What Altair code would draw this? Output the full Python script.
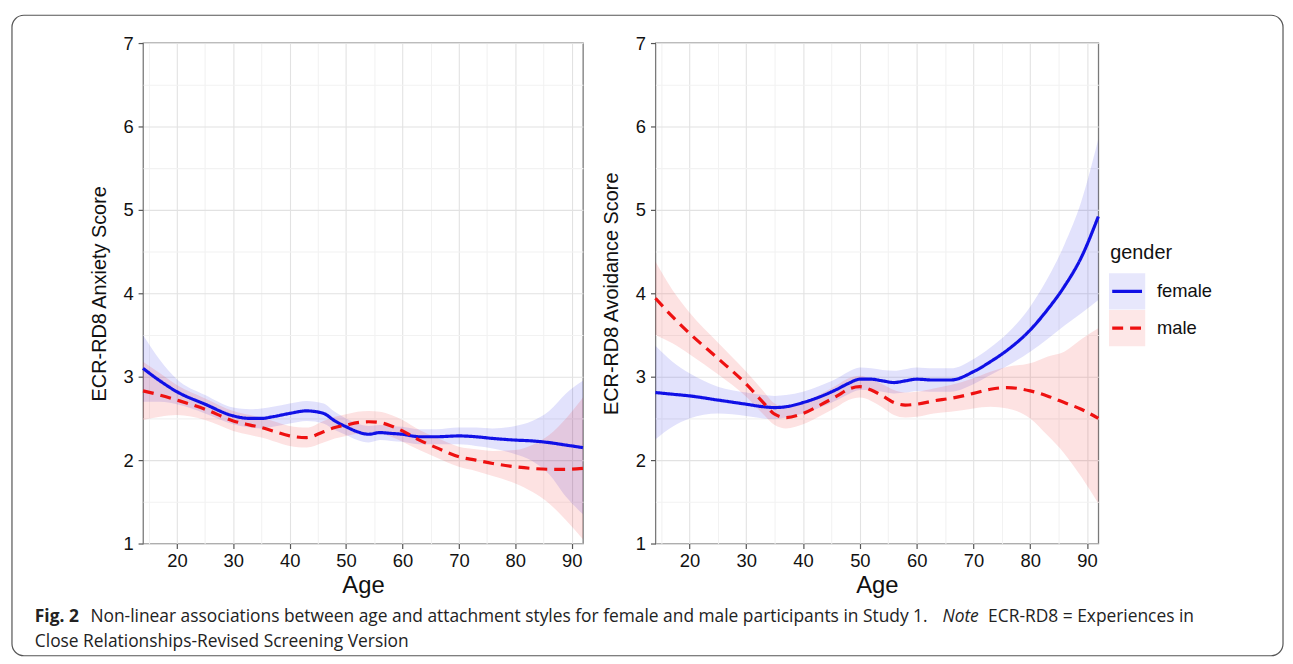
import altair as alt
import pandas as pd

# ---------------- data ----------------
ages = [14, 17, 20, 25, 30, 33, 35, 37, 40, 43, 46, 48, 50, 52, 54, 56, 58, 60,
        63, 66, 70, 73, 76, 80, 83, 86, 89, 92]
genders = ["female", "male"]

# Anxiety panel
anx_female_fit = [3.10, 2.95, 2.82, 2.67, 2.53, 2.50, 2.50, 2.52, 2.56, 2.59, 2.56, 2.47, 2.40, 2.34,
                  2.31, 2.33, 2.32, 2.31, 2.28, 2.28, 2.29, 2.28, 2.26, 2.24, 2.23, 2.21, 2.18, 2.15]
anx_female_lo = [2.70, 2.70, 2.67, 2.56, 2.43, 2.39, 2.38, 2.40, 2.44, 2.47, 2.44, 2.36, 2.30, 2.24,
                 2.21, 2.24, 2.23, 2.22, 2.19, 2.19, 2.19, 2.17, 2.14, 2.07, 1.99, 1.83, 1.56, 1.35]
anx_female_hi = [3.50, 3.20, 2.97, 2.78, 2.63, 2.61, 2.62, 2.64, 2.68, 2.71, 2.68, 2.58, 2.50, 2.44,
                 2.41, 2.42, 2.41, 2.40, 2.37, 2.37, 2.39, 2.39, 2.38, 2.41, 2.47, 2.59, 2.80, 2.95]
anx_male_fit = [2.83, 2.78, 2.72, 2.61, 2.47, 2.42, 2.39, 2.35, 2.29, 2.27, 2.34, 2.39, 2.42, 2.45,
                2.46, 2.45, 2.41, 2.35, 2.24, 2.15, 2.04, 2.00, 1.96, 1.92, 1.90, 1.89, 1.89, 1.90]
anx_male_lo = [2.48, 2.52, 2.54, 2.48, 2.35, 2.30, 2.27, 2.23, 2.17, 2.15, 2.21, 2.26, 2.29, 2.32,
               2.33, 2.32, 2.28, 2.22, 2.12, 2.03, 1.92, 1.87, 1.81, 1.72, 1.62, 1.48, 1.28, 1.05]
anx_male_hi = [3.18, 3.04, 2.90, 2.74, 2.59, 2.54, 2.51, 2.47, 2.41, 2.39, 2.47, 2.52, 2.55, 2.58,
               2.59, 2.58, 2.54, 2.48, 2.36, 2.27, 2.16, 2.13, 2.11, 2.12, 2.18, 2.30, 2.50, 2.75]

# Avoidance panel
avo_female_fit = [2.81, 2.79, 2.77, 2.72, 2.67, 2.64, 2.63, 2.64, 2.69, 2.76, 2.85, 2.92, 2.97, 2.97,
                  2.95, 2.93, 2.95, 2.97, 2.96, 2.96, 3.06, 3.18, 3.32, 3.56, 3.80, 4.08, 4.43, 4.92]
avo_female_lo = [2.25, 2.40, 2.50, 2.56, 2.53, 2.50, 2.49, 2.51, 2.56, 2.63, 2.72, 2.79, 2.84, 2.84,
                 2.82, 2.80, 2.81, 2.83, 2.82, 2.82, 2.91, 3.02, 3.13, 3.30, 3.45, 3.61, 3.76, 3.92]
avo_female_hi = [3.37, 3.18, 3.04, 2.88, 2.81, 2.78, 2.77, 2.78, 2.82, 2.89, 2.98, 3.06, 3.11, 3.10,
                 3.08, 3.07, 3.09, 3.11, 3.10, 3.10, 3.21, 3.35, 3.52, 3.84, 4.17, 4.58, 5.10, 5.85]
avo_male_fit = [3.94, 3.72, 3.52, 3.22, 2.91, 2.69, 2.55, 2.51, 2.56, 2.66, 2.77, 2.85, 2.88, 2.84,
                2.77, 2.69, 2.66, 2.67, 2.71, 2.74, 2.80, 2.85, 2.87, 2.83, 2.77, 2.69, 2.61, 2.50]
avo_male_lo = [3.50, 3.40, 3.27, 3.03, 2.76, 2.55, 2.42, 2.38, 2.43, 2.53, 2.64, 2.72, 2.75, 2.71,
               2.63, 2.54, 2.51, 2.52, 2.56, 2.58, 2.62, 2.64, 2.62, 2.50, 2.30, 2.08, 1.80, 1.48]
avo_male_hi = [4.38, 4.04, 3.77, 3.41, 3.06, 2.83, 2.68, 2.64, 2.69, 2.79, 2.90, 2.98, 3.01, 2.97,
               2.91, 2.84, 2.81, 2.82, 2.86, 2.90, 2.98, 3.06, 3.12, 3.16, 3.24, 3.30, 3.45, 3.58]

x_all = [15, 20, 25, 30, 35, 40, 45, 50, 55, 60, 65, 70, 75, 80, 85, 90]
y_all = [1, 1.5, 2, 2.5, 3, 3.5, 4, 4.5, 5, 5.5, 6, 6.5, 7]

caption_bold = "Fig. 2"
caption_a = "Non-linear associations between age and attachment styles for female and male participants in Study 1."
caption_note = "Note"
caption_c = "ECR-RD8 = Experiences in"
caption_line2 = "Close Relationships-Revised Screening Version"

# ---------------- helpers ----------------
def panel_frame(ff, fl, fh, mf, ml, mh):
    rows = []
    for g, fit, lo, hi in (("female", ff, fl, fh), ("male", mf, ml, mh)):
        for a, f, l, h in zip(ages, fit, lo, hi):
            rows.append({"age": a, "fit": f, "lo": l, "hi": h, "gender": g})
    return pd.DataFrame(rows)

BLUE = "#1010e6"
RED = "#ee1111"
color_scale = alt.Scale(domain=genders, range=[BLUE, RED])
dash_scale = alt.Scale(domain=genders, range=[[1, 0], [11, 7]])
FONT = "Liberation Sans"

def x_axis():
    return alt.Axis(
        title="Age", values=x_all,
        labelExpr="datum.value % 10 == 0 ? format(datum.value, 'd') : ''",
        tickOpacity={"condition": {"test": "datum.value % 10 != 0", "value": 0}, "value": 1},
        gridColor={"condition": {"test": "datum.value % 10 != 0", "value": "#f2f2f2"}, "value": "#e2e2e2"},
        labelFontSize=18.5, titleFontSize=24, labelPadding=3, titlePadding=4,
    )

def y_axis(title):
    return alt.Axis(
        title=title, values=y_all,
        labelExpr="datum.value % 1 == 0 ? format(datum.value, 'd') : ''",
        tickOpacity={"condition": {"test": "datum.value % 1 != 0", "value": 0}, "value": 1},
        gridColor={"condition": {"test": "datum.value % 1 != 0", "value": "#f2f2f2"}, "value": "#e2e2e2"},
        labelFontSize=18.5, titleFontSize=20, labelPadding=5, titlePadding=14,
    )

def panel(df, ytitle):
    base = alt.Chart(df)
    xs = alt.X("age:Q", scale=alt.Scale(domain=[14, 92], nice=False, zero=False), axis=x_axis())
    band = base.mark_area(opacity=0.12, interpolate="monotone").encode(
        x=xs,
        y=alt.Y("lo:Q", stack=None, scale=alt.Scale(domain=[1, 7], nice=False, zero=False), axis=y_axis(ytitle)),
        y2="hi:Q",
        color=alt.Color("gender:N", scale=color_scale, legend=None),
    )
    line = base.mark_line(strokeWidth=3.2, interpolate="monotone").encode(
        x=xs,
        y=alt.Y("fit:Q", scale=alt.Scale(domain=[1, 7], nice=False, zero=False), axis=y_axis(ytitle)),
        color=alt.Color("gender:N", scale=color_scale, legend=None),
        strokeDash=alt.StrokeDash("gender:N", scale=dash_scale, legend=None),
    )
    return band, line

anx_df = panel_frame(anx_female_fit, anx_female_lo, anx_female_hi, anx_male_fit, anx_male_lo, anx_male_hi)
avo_df = panel_frame(avo_female_fit, avo_female_lo, avo_female_hi, avo_male_fit, avo_male_lo, avo_male_hi)

b1, l1 = panel(anx_df, "ECR-RD8 Anxiety Score")
b2, l2 = panel(avo_df, "ECR-RD8 Avoidance Score")

# outer frame and caption (decoration, positioned relative to the left plot area)
one = pd.DataFrame({"k": [0]})
frame = alt.Chart(one).mark_rect(fillOpacity=0, stroke="#555555", strokeWidth=1.2, cornerRadius=12).encode(
    x=alt.value(-132), x2=alt.value(1148), y=alt.value(-28), y2=alt.value(617))

CAP_SIZE = 17.5

def cap_text(txt, x, y, **kw):
    return alt.Chart(pd.DataFrame({"t": [txt]})).mark_text(
        align="left", baseline="alphabetic", font="Open Sans", fontSize=CAP_SIZE, color="#222222", **kw
    ).encode(x=alt.value(x), y=alt.value(y), text="t:N")

cap = [
    cap_text(caption_bold, -109, 583, fontWeight="bold"),
    cap_text(caption_a, -53, 583),
    cap_text(caption_note, 805, 583, fontStyle="italic"),
    cap_text(caption_c, 851, 583),
    cap_text(caption_line2, -109, 608),
]

left = alt.layer(b1, l1, frame, *cap).properties(width=443, height=504)
right = alt.layer(b2, l2).properties(width=446, height=504)

# legend (placed 73px after the right panel, content shifted back to sit 11px from it)
leg_df = pd.DataFrame({"gender": genders})
ysc = alt.Scale(type="point", domain=genders, range=[250, 287], padding=0)
lbase = alt.Chart(leg_df)
keys = lbase.mark_square(size=1330, opacity=0.1).encode(
    x=alt.value(-44), y=alt.Y("gender:N", scale=ysc, axis=None),
    color=alt.Color("gender:N", scale=color_scale, legend=None))
krules = lbase.mark_rule(strokeWidth=3.2).encode(
    x=alt.value(-59), x2=alt.value(-29), y=alt.Y("gender:N", scale=ysc, axis=None),
    color=alt.Color("gender:N", scale=color_scale, legend=None),
    strokeDash=alt.StrokeDash("gender:N", scale=dash_scale, legend=None))
klabels = lbase.mark_text(align="left", baseline="middle", font=FONT, fontSize=18.5, color="#111111").encode(
    x=alt.value(-14), y=alt.Y("gender:N", scale=ysc, axis=None), text="gender:N")
ltitle = alt.Chart(pd.DataFrame({"t": ["gender"]})).mark_text(
    align="left", baseline="middle", font=FONT, fontSize=20, color="#111111").encode(
    x=alt.value(-61), y=alt.value(211), text="t:N")
legend = alt.layer(keys, krules, klabels, ltitle).properties(
    width=50, height=504, view=alt.ViewBackground(stroke="transparent"))

chart = alt.hconcat(left, right, legend, spacing=73, bounds="flush").resolve_scale(
    x="independent", y="independent"
).properties(
    padding={"left": 2, "top": 3, "right": 0, "bottom": 0}, background="white"
).configure_view(
    stroke="#7a7a7a", strokeWidth=1.3
).configure_axis(
    domain=False, tickColor="#555555", tickSize=5, tickWidth=1.2,
    labelFont=FONT, titleFont=FONT, labelColor="#111111", titleColor="#111111",
    titleFontWeight="normal", gridWidth=1.1,
)

chart.save("out.html", embed_options={"renderer": "svg", "actions": False})
